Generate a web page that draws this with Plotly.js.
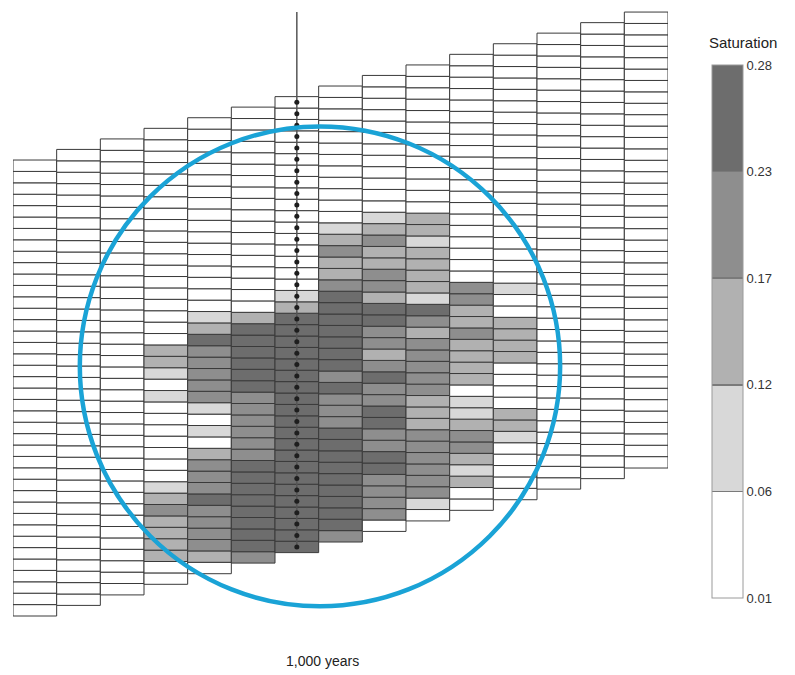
<!DOCTYPE html>
<html>
<head>
<meta charset="utf-8">
<script src="https://cdn.plot.ly/plotly-3.0.1.min.js"></script>
<style>
  html, body { margin: 0; padding: 0; background: #ffffff; }
  #chart { width: 795px; height: 675px; }
</style>
</head>
<body>
<div id="chart"></div>
<script>
// ---------------- DATA ----------------
// Number of cells per column
const nRows = 40;
// Elevation of the bottom of each of the 15 columns (in cell units)
const colBase = [0, 0.93, 1.85, 2.78, 3.71, 4.64, 5.56, 6.49, 7.42, 8.34, 9.27, 10.2, 11.13, 12.05, 12.98];
// Saturation class of each cell (bottom row first), 0 = 0.01-0.06 ... 4 = 0.23-0.28
const col01 = [0,0,0,0,0,0,0,0,0,0, 0,0,0,0,0,0,0,0,0,0, 0,0,0,0,0,0,0,0,0,0, 0,0,0,0,0,0,0,0,0,0];
const col02 = [0,0,0,0,0,0,0,0,0,0, 0,0,0,0,0,0,0,0,0,0, 0,0,0,0,0,0,0,0,0,0, 0,0,0,0,0,0,0,0,0,0];
const col03 = [0,0,0,0,0,0,0,0,0,0, 0,0,0,0,0,0,0,0,0,0, 0,0,0,0,0,0,0,0,0,0, 0,0,0,0,0,0,0,0,0,0];
const col04 = [0,0,2,2,2,2,3,2,1,0, 0,0,0,0,0,0,1,0,1,2, 2,0,0,0,0,0,0,0,0,0, 0,0,0,0,0,0,0,0,0,0];
const col05 = [0,2,3,3,3,3,4,3,3,3, 2,0,1,0,1,3,3,3,3,3, 4,2,1,0,0,0,0,0,0,0, 0,0,0,0,0,0,0,0,0,0];
const col06 = [3,4,4,4,4,4,4,4,4,3, 3,3,3,3,3,4,4,4,4,4, 4,2,0,0,0,0,0,0,0,0, 0,0,0,0,0,0,0,0,0,0];
const col07 = [4,4,4,4,4,4,4,4,4,4, 4,4,4,4,4,4,4,4,4,4, 4,2,1,0,0,0,0,0,0,0, 0,0,0,0,0,0,0,0,0,0];
const col08 = [3,4,4,4,4,4,4,4,4,4, 3,3,3,4,3,4,4,4,4,4, 4,4,3,2,2,3,2,1,0,0, 0,0,0,0,0,0,0,0,0,0];
const col09 = [0,3,3,3,3,4,4,3,3,4, 4,3,3,4,3,2,3,3,4,4, 2,3,3,2,2,3,2,1,0,0, 0,0,0,0,0,0,0,0,0,0];
const col10 = [0,1,3,3,3,3,3,3,2,2, 2,3,3,3,3,3,2,3,4,1, 2,2,2,2,1,2,2,0,0,0, 0,0,0,0,0,0,0,0,0,0];
const col11 = [0,0,2,1,2,3,3,2,1,1, 0,2,2,2,2,3,2,2,3,3, 0,0,0,0,0,0,0,0,0,0, 0,0,0,0,0,0,0,0,0,0];
const col12 = [0,0,0,0,0,1,2,2,0,0, 0,0,2,2,2,2,0,0,1,0, 0,0,0,0,0,0,0,0,0,0, 0,0,0,0,0,0,0,0,0,0];
const col13 = [0,0,0,0,0,0,0,0,0,0, 0,0,0,0,0,0,0,0,0,0, 0,0,0,0,0,0,0,0,0,0, 0,0,0,0,0,0,0,0,0,0];
const col14 = [0,0,0,0,0,0,0,0,0,0, 0,0,0,0,0,0,0,0,0,0, 0,0,0,0,0,0,0,0,0,0, 0,0,0,0,0,0,0,0,0,0];
const col15 = [0,0,0,0,0,0,0,0,0,0, 0,0,0,0,0,0,0,0,0,0, 0,0,0,0,0,0,0,0,0,0, 0,0,0,0,0,0,0,0,0,0];
// Colour-bar class boundaries
const levelLabels = ['0.01', '0.06', '0.12', '0.17', '0.23', '0.28'];
const levelColors = ['#ffffff', '#d8d8d8', '#b1b1b1', '#8e8e8e', '#6d6d6d'];
// Column holding the observation well
const wellColumn = 6;
// Circle (centre and radius, in axis units)
const circleCenter = [6.53, 21.9];
const circleRadius = [5.5, 21.05];
const bottomLabel = '1,000 years';
const colorbarTitle = 'Saturation';

// ---------------- BUILD ----------------
const columns = [col01, col02, col03, col04, col05, col06, col07, col08, col09, col10, col11, col12, col13, col14, col15];
const bx = [], bbase = [], by = [], bc = [];
columns.forEach((col, c) => {
  col.forEach((v, r) => {
    bx.push(c);
    bbase.push(colBase[c] + r);
    by.push(1);
    bc.push(v);
  });
});

const nLev = levelColors.length;
const colorscale = [];
levelColors.forEach((col, i) => {
  colorscale.push([i / nLev, col]);
  colorscale.push([(i + 1) / nLev, col]);
});
const tickvals = levelLabels.map((_, i) => i - 0.5);

// plot area: left 13, width 655; top 10, height 610
const cells = {
  type: 'bar',
  x: bx,
  y: by,
  base: bbase,
  width: 1,
  marker: {
    color: bc,
    colorscale: colorscale,
    cmin: -0.5,
    cmax: nLev - 0.5,
    showscale: true,
    line: { color: '#3a3a3a', width: 1 },
    colorbar: {
      xref: 'paper', x: (712 - 13) / 655, xanchor: 'left', xpad: 0,
      yref: 'paper', y: (620 - 598) / 610, yanchor: 'bottom', ypad: 0,
      len: 533, lenmode: 'pixels',
      thickness: 31, thicknessmode: 'pixels',
      outlinecolor: '#9a9a9a', outlinewidth: 1,
      tickmode: 'array', tickvals: tickvals, ticktext: levelLabels,
      ticks: 'inside', ticklen: 31, tickcolor: '#7a7a7a', tickwidth: 1.5,
      tickfont: { family: 'Liberation Sans, Arial, sans-serif', size: 13, color: '#333' },
      title: { text: '' }
    }
  },
  hoverinfo: 'skip',
  showlegend: false
};

const wellY = col07.map((_, r) => colBase[wellColumn] + r + 0.5);
const wellLine = {
  type: 'scatter', mode: 'lines',
  x: [wellColumn, wellColumn],
  y: [colBase[wellColumn] + 0.5, colBase[colBase.length - 1] + nRows],
  line: { color: '#555555', width: 1.5 },
  hoverinfo: 'skip', showlegend: false
};
const wellDots = {
  type: 'scatter', mode: 'markers',
  x: wellY.map(() => wellColumn),
  y: wellY,
  marker: { color: '#1e1e1e', size: 5 },
  hoverinfo: 'skip', showlegend: false
};

const layout = {
  width: 795, height: 675,
  margin: { l: 13, r: 127, t: 10, b: 55, autoexpand: false },
  paper_bgcolor: '#ffffff', plot_bgcolor: '#ffffff',
  barmode: 'overlay',
  showlegend: false,
  xaxis: { range: [-0.5, 14.5], visible: false, fixedrange: true },
  yaxis: { range: [-0.351, 53.16], visible: false, fixedrange: true },
  shapes: [{
    type: 'circle', xref: 'x', yref: 'y', layer: 'above',
    x0: circleCenter[0] - circleRadius[0], x1: circleCenter[0] + circleRadius[0],
    y0: circleCenter[1] - circleRadius[1], y1: circleCenter[1] + circleRadius[1],
    line: { color: '#1aa3d6', width: 4.5 }
  }],
  annotations: [
    {
      text: colorbarTitle, xref: 'paper', yref: 'paper',
      x: (743 - 13) / 655, y: (620 - 43) / 610, xanchor: 'center', yanchor: 'middle',
      showarrow: false, font: { family: 'Liberation Sans, Arial, sans-serif', size: 15, color: '#222' }
    },
    {
      text: bottomLabel, xref: 'paper', yref: 'paper',
      x: (322 - 13) / 655, y: (620 - 661) / 610, xanchor: 'center', yanchor: 'middle',
      showarrow: false, font: { family: 'Liberation Sans, Arial, sans-serif', size: 14, color: '#222' }
    }
  ]
};

Plotly.newPlot('chart', [cells, wellLine, wellDots], layout, { staticPlot: true, displayModeBar: false });
</script>
</body>
</html>
